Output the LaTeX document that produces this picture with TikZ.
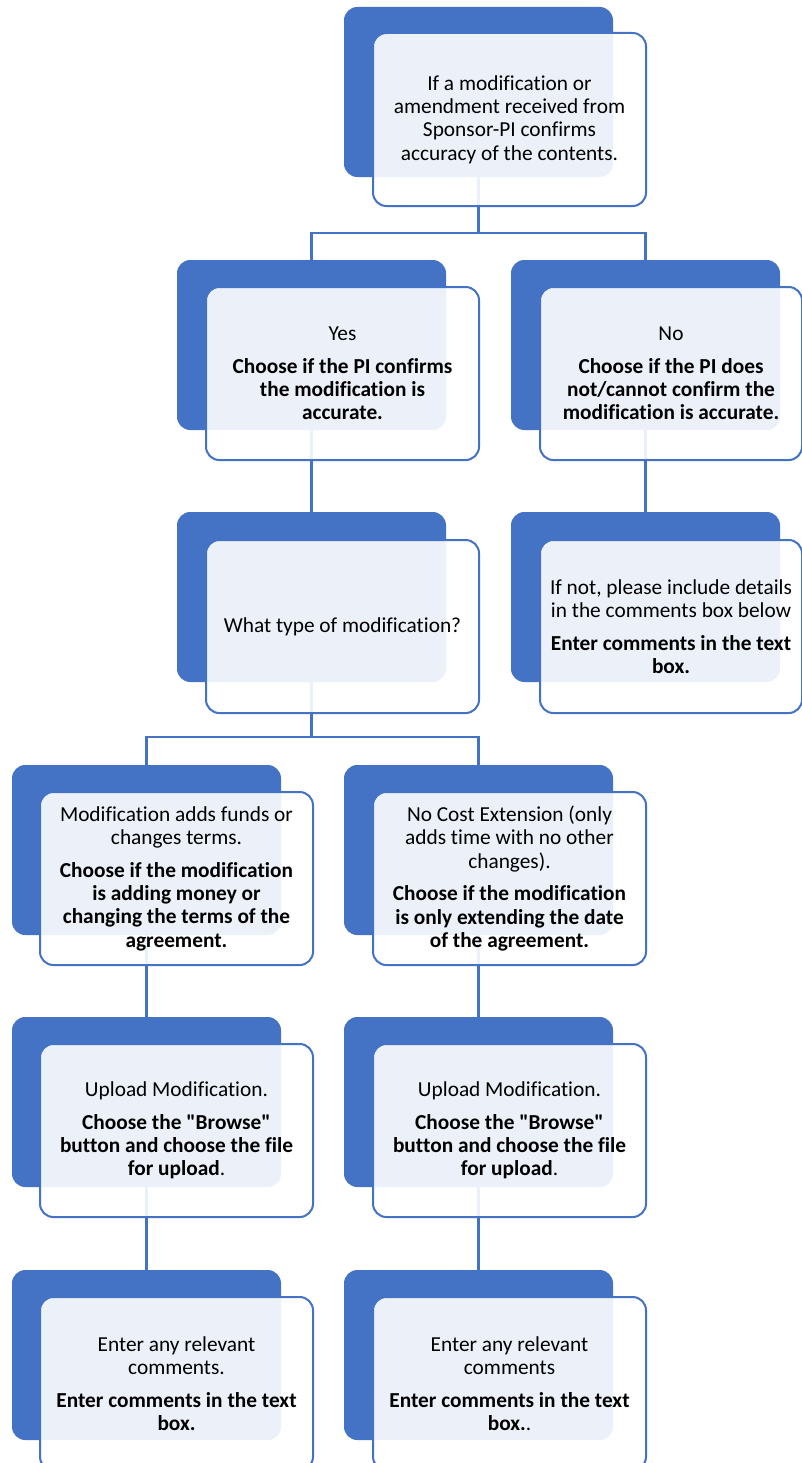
\documentclass[tikz,border=0pt]{standalone}
\usepackage{fontspec}
\setmainfont{Carlito}[Ligatures={TeXOff,NoCommon}]
\definecolor{accent}{HTML}{4472C4}
% straight double quote, placed as a glyph
\newcommand{\sq}{\XeTeXglyph\XeTeXcharglyph"22\relax}
\pgfdeclarelayer{bg}
\pgfdeclarelayer{paper}
\pgfsetlayers{paper,bg,main}
\begin{document}
\begin{tikzpicture}[x=0.75pt,y=-0.75pt,
  backbox/.style={fill=accent, rounded corners=10pt, minimum width=201.75pt,
    minimum height=127.5pt, inner sep=0pt, outer sep=0pt, anchor=north west},
  frontbox/.style={draw=accent, line width=1.5pt, fill=white, fill opacity=0.9,
    text opacity=1, rounded corners=10pt, minimum width=204.75pt,
    minimum height=129.75pt, inner sep=0pt, outer sep=0pt, anchor=north west,
    align=center, font=\fontsize{16}{17.5}\selectfont},
  link/.style={draw=accent, line width=1.9pt}]
\useasboundingbox (0,0) rectangle (802,1463);
\clip (0,0) rectangle (802,1463);
\begin{pgfonlayer}{paper}
\fill[white] (0,0) rectangle (802,1463);
\end{pgfonlayer}

% top question
\node[backbox] (qb) at (344,7) {};
\node[frontbox] (qf) at (373,33) {If a modification or\\ amendment received from\\ Sponsor-PI confirms\\ accuracy of the contents.};

% yes / no
\node[backbox] (yb) at (177,260) {};
\node[frontbox] (yf) at (206,287) {Yes\\[7pt] \textbf{Choose if the PI confirms}\\ \textbf{the modification is}\\ \textbf{accurate.}};
\node[backbox] (nb) at (511,260) {};
\node[frontbox, minimum width=196.5pt] (nf) at (540,287) {No\\[7pt] \textbf{Choose if the PI does}\\ \textbf{not/cannot confirm the}\\ \textbf{modification is accurate.}};

% type of modification / comments for "no"
\node[backbox] (tb) at (177,512) {};
\node[frontbox] (tf) at (206,540) {What type of modification?};
\node[backbox] (db) at (511,512) {};
\node[frontbox, minimum width=196.5pt] (df) at (540,540) {If not, please include details\\ in the comments box below\\[7pt] \textbf{Enter comments in the text}\\ \textbf{box.}};

% modification kinds
\node[backbox] (ab) at (12,765) {};
\node[frontbox] (af) at (40,792) {Modification adds funds or\\ changes terms.\\[7pt] \textbf{Choose if the modification}\\ \textbf{is adding money or}\\ \textbf{changing the terms of the}\\ \textbf{agreement.}};
\node[backbox] (eb) at (344,765) {};
\node[frontbox] (ef) at (373,792) {No Cost Extension (only\\ adds time with no other\\ changes).\\[7pt] \textbf{Choose if the modification}\\ \textbf{is only extending the date}\\ \textbf{of the agreement.}};

% uploads
\node[backbox] (ub1) at (12,1017) {};
\node[frontbox] (uf1) at (40,1044) {Upload Modification.\\[7pt] \textbf{Choose the \sq Browse\sq}\\ \textbf{button and choose the file}\\ \textbf{for upload}.};
\node[backbox] (ub2) at (344,1017) {};
\node[frontbox] (uf2) at (373,1044) {Upload Modification.\\[7pt] \textbf{Choose the \sq Browse\sq}\\ \textbf{button and choose the file}\\ \textbf{for upload}.};

% comments
\node[backbox] (cb1) at (12,1270) {};
\node[frontbox] (cf1) at (40,1297) {Enter any relevant\\ comments.\\[7pt] \textbf{Enter comments in the text}\\ \textbf{box.}};
\node[backbox] (cb2) at (344,1270) {};
\node[frontbox] (cf2) at (373,1297) {Enter any relevant\\ comments\\[7pt] \textbf{Enter comments in the text}\\ \textbf{box.}.};

% connectors, behind the boxes
\begin{pgfonlayer}{bg}
\coordinate (j1) at (478.5,233);
\coordinate (j2) at (311.5,737);
\draw[link] (qb.south) -- (j1);
\draw[link] (yb.north) |- (j1) -| (nb.north);
\draw[link] (yb.south) -- (tb.north);
\draw[link] (nb.south) -- (db.north);
\draw[link] (tb.south) -- (j2);
\draw[link] (ab.north) |- (j2) -| (eb.north);
\draw[link] (ab.south) -- (ub1.north);
\draw[link] (ub1.south) -- (cb1.north);
\draw[link] (eb.south) -- (ub2.north);
\draw[link] (ub2.south) -- (cb2.north);
\end{pgfonlayer}
\end{tikzpicture}
\end{document}
